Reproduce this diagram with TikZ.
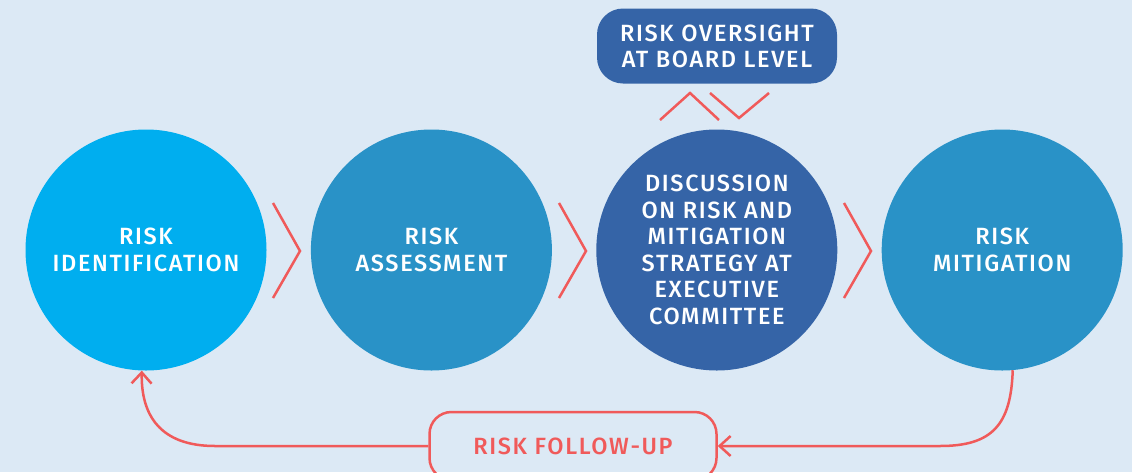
\documentclass[tikz,border=0pt]{standalone}
\usepackage{fontspec}
\setmainfont{Fira Sans}[BoldFont={Fira Sans Medium},LetterSpace=7]
\usetikzlibrary{arrows.meta,positioning}
\definecolor{bgblue}{HTML}{DCE9F5}
\definecolor{cyanstage}{HTML}{00AEEF}
\definecolor{midstage}{HTML}{2992C7}
\definecolor{darkstage}{HTML}{3564A7}
\definecolor{coral}{HTML}{F05A5A}

\begin{document}
\begin{tikzpicture}[x=1pt,y=-1pt,>={Straight Barb[length=11pt,width=20pt]},
  stage/.style={circle,minimum size=241pt,inner sep=0pt,text=white,align=center,
    font=\bfseries\fontsize{23.5}{26.5}\selectfont},
  chev/.style={coral,line width=2.5pt},
  board/.style={fill=darkstage,rounded corners=26pt,minimum width=240pt,minimum height=75pt,
    text=white,align=center,font=\bfseries\fontsize{23.5}{26}\selectfont},
  followbox/.style={draw=coral,line width=2.5pt,rounded corners=22pt,minimum width=287pt,
    minimum height=68pt,text=coral,font=\bfseries\fontsize{23.5}{26.5}\selectfont},
  loopline/.style={coral,line width=2.5pt}]
% Background
\fill[bgblue] (0,0) rectangle (1132,472);
\useasboundingbox (0,0) rectangle (1132,472);

% Stages
\node[stage,fill=cyanstage] (ident) at (146,250) {RISK\\IDENTIFICATION};
\node[stage,fill=midstage,right=44pt of ident] (assess) {RISK\\ASSESSMENT};
\node[stage,fill=darkstage,right=44pt of assess] (discuss)
  {DISCUSSION\\ON RISK AND\\MITIGATION\\STRATEGY AT\\EXECUTIVE\\COMMITTEE};
\node[stage,fill=midstage,right=44pt of discuss] (mitig) {RISK\\MITIGATION};

% Chevrons between stages
\foreach \x in {273,559,844}
\draw[chev] (\x,203) -- (\x+27,251) -- (\x,298);

% Board level
\node[board] (board) at (717,46) {RISK OVERSIGHT\\AT BOARD LEVEL};
\draw[chev] (660,120) -- (690,93) -- (719,120);
\draw[chev] (710,93) -- (739,118) -- (769,93);

% Follow-up loop
\node[followbox] (follow) at (573,446) {RISK FOLLOW-UP};
\draw[loopline,->] (follow.west) -- (215,446) .. controls (160,446) and (141,415) .. (ident.-92);
\draw[loopline,->] (mitig.-85) .. controls (1011,425) and (992,446) .. (940,446) -- (follow.east);
\end{tikzpicture}
\end{document}
